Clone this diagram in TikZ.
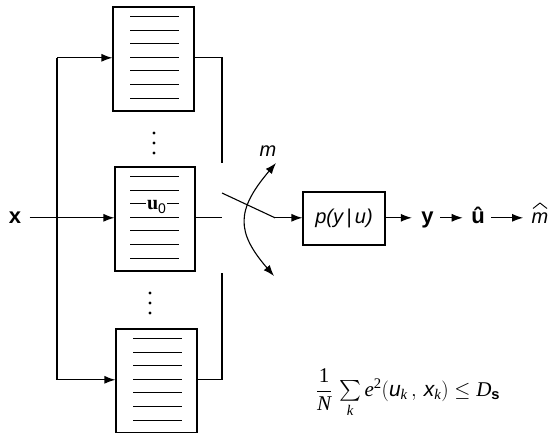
\documentclass[tikz,border=0pt]{standalone}
\usepackage{fontspec}
\usepackage{amsmath}
\setmainfont{Liberation Serif}
\setsansfont{Liberation Sans}
\usetikzlibrary{arrows.meta,calc}
\tikzset{
  arr/.style={-{Latex[length=11pt,width=8pt]}},
  dblarr/.style={{Latex[length=11pt,width=8pt]}-{Latex[length=11pt,width=8pt]}},
  regbox/.style={draw, minimum width=81pt, minimum height=104pt, inner sep=0pt},
  chbox/.style={draw, minimum width=82pt, minimum height=53pt, inner sep=0pt,
    font=\fontsize{20}{24}\selectfont\sffamily\itshape},
  boldlbl/.style={inner sep=0pt, anchor=base, font=\fontsize{22}{26}\selectfont\sffamily\bfseries},
  itlbl/.style={inner sep=0pt, anchor=base, font=\fontsize{20}{24}\selectfont\sffamily\itshape},
  dotmark/.style={circle, fill, inner sep=0pt, minimum size=3.4pt},
  rowline/.style={line width=1.1pt},
}
\begin{document}
\begin{tikzpicture}[x=1pt, y=-1pt, line width=1.1pt]
\useasboundingbox (0,0) rectangle (556,432);
\clip (0,0) rectangle (556,432);

% register boxes
\node[regbox] (b1) at (153.5,59) {};
\node[regbox, minimum width=80pt] (b2) at (155,219) {};
\node[regbox] (b3) at (156.5,381) {};

% rows in the boxes
\foreach \b in {b1,b3}{
  \foreach \i in {0,...,6}{
    \draw[rowline] ($(\b.north west)+(18,10+13.6*\i)$) -- ($(\b.north east)+(-16,10+13.6*\i)$);
  }
}
\foreach \i in {0,1,3,4,5,6}{
  \draw[rowline] ($(b2.north west)+(16,10+13.6*\i)$) -- ($(b2.north east)+(-17,10+13.6*\i)$);
}
\draw[rowline] ($(b2.north west)+(16,37.2)$) coordinate (u0l) -- ($(b2.north east)+(-17,37.2)$) coordinate (u0r);
\node[fill=white, inner xsep=1.5pt, inner ysep=0pt, anchor=base] (u0) at (156.5,209.5)
  {\fontsize{20}{24}\selectfont\bfseries u\raisebox{-3.5pt}{\fontsize{14}{16}\selectfont\sffamily\mdseries 0}};

% dots
\node[dotmark] (d1) at (154,133) {};
\node[dotmark] (d2) at (154,143) {};
\node[dotmark] (d3) at (154,153) {};
\node[dotmark] (d4) at (150,293) {};
\node[dotmark] (d5) at (150,303) {};
\node[dotmark] (d6) at (150,313) {};

% input and left bus
\node[boldlbl] (xin) at (15,223) {x};
\coordinate (LT) at (57,57.8);
\coordinate (LB) at (57,379.8);
\coordinate (XM) at (57,217.8);
\draw (LT) -- (LB);
\draw[arr] (LT) -- (LT -| b1.west);
\draw[arr] (LB) -- (LB -| b3.west);
\draw[arr] ([xshift=8pt]xin.east |- XM) -- (XM -| b2.west);

% right bus
\coordinate (RT) at (222,57.8);
\coordinate (RTe) at (222,163);
\coordinate (RM) at (222,217.8);
\coordinate (RBs) at (222,273);
\coordinate (RB) at (222,379.8);
\draw (RT -| b1.east) -- (RT) -- (RTe);
\draw (RBs) -- (RB) -- (RB -| b3.east);
\draw (RM -| b2.east) -- (RM);

% switch
\coordinate (sw0) at (222,193);
\coordinate (sw1) at (275,217.8);
\node[chbox] (pb) at (344,218.5) {p(y\,|\,u)};
\draw (sw0) -- (sw1);
\draw[arr] (sw1) -- (sw1 -| pb.west);

% curved double arrow and m
\coordinate (ct) at (276,163);
\coordinate (cb) at (274,276);
\draw[dblarr] (ct) .. controls (236,210) and (236,232) .. (cb);
\node[itlbl] (m) at (268,156) {m};

% outputs
\coordinate (OM) at (0,217.8);
\node[boldlbl] (yout) at (427.5,223) {y};
\node[boldlbl] (uhat) at (478,223) {û};
\node[itlbl] (mhat) at (540,223) {m};
\draw[line width=0.9pt] ($(mhat.base)+(-7,-14.5)$) -- ($(mhat.base)+(0,-20)$) -- ($(mhat.base)+(7,-14.5)$);
\draw[arr] (OM -| pb.east) -- ([xshift=-9pt]OM -| yout.west);
\draw[arr] ([xshift=6pt]OM -| yout.east) -- ([xshift=-8pt]OM -| uhat.west);
\draw[arr] ([xshift=6pt]OM -| uhat.east) -- ([xshift=-8pt]OM -| mhat.west);

% distortion constraint
\node[inner sep=0pt] (dist) at (408,393) {\fontsize{21}{25}\selectfont
  $\dfrac{\text{1}}{\text{\itshape N}}\,\textstyle\sum\limits_{\text{\itshape k}}
  \text{\itshape e}^{\text{2}}(\text{\sffamily\itshape u}_{\text{\itshape k}}\,,\,
  \text{\sffamily\itshape x}_{\text{\itshape k}})\le
  \text{\itshape D}_{\text{\sffamily\bfseries s}}$};
\end{tikzpicture}
\end{document}
